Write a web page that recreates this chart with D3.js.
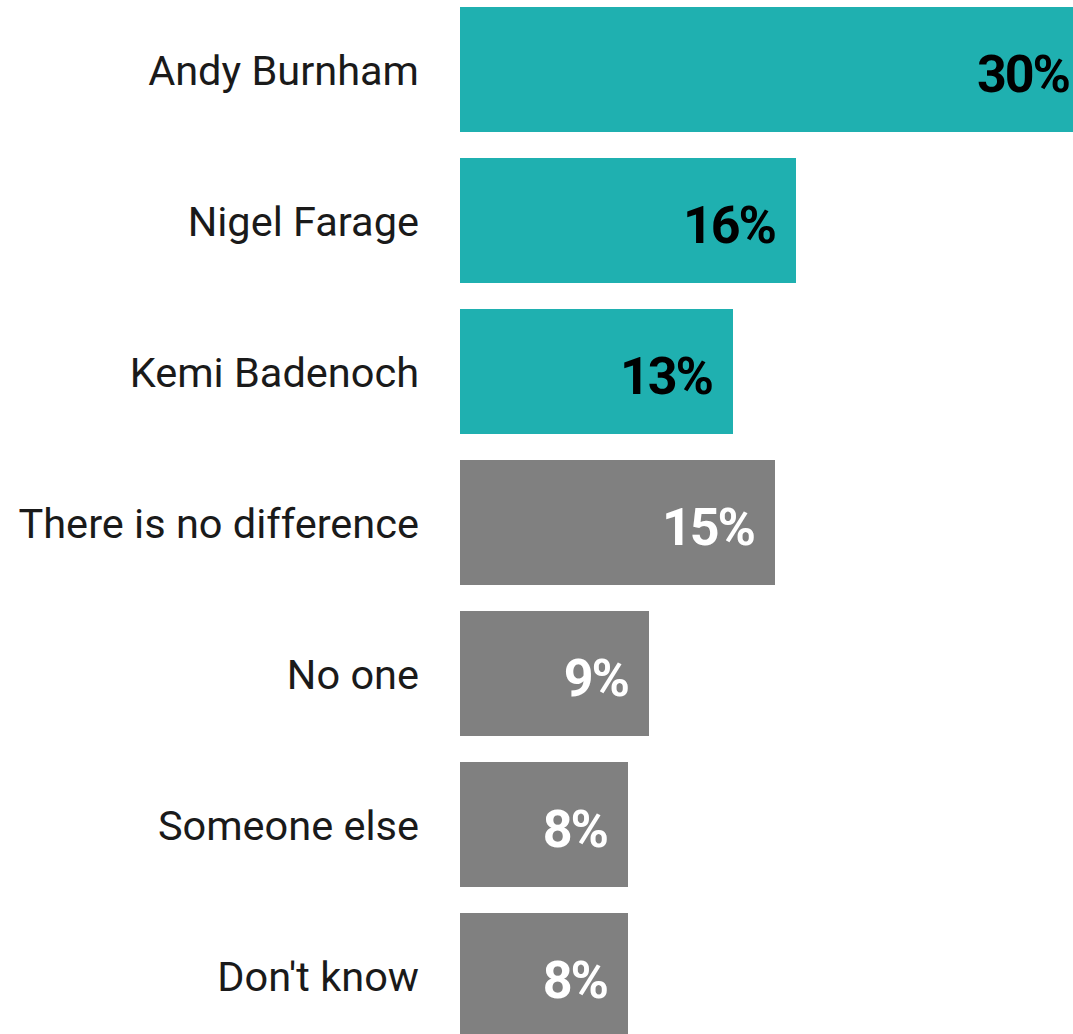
<!DOCTYPE html>
<html><head><meta charset="utf-8">
<script src="https://cdn.jsdelivr.net/npm/d3@7"></script>
<style>html,body{margin:0;padding:0;background:#fff;overflow:hidden}</style>
</head><body>
<svg id="chart" width="1073" height="1034"></svg>
<script>
const categories = ["Andy Burnham","Nigel Farage","Kemi Badenoch","There is no difference","No one","Someone else","Don't know"];
const values = [30,16,13,15,9,8,8];
const groups = ["named","named","named","other","other","other","other"];

const svg = d3.select("#chart");
const x = d3.scaleLinear().domain([0, 30]).range([460, 1090]);
const y = d3.scaleBand().domain(categories).range([7, 7 + 151*7 - 26]).paddingInner(26/151).paddingOuter(0);
const color = d3.scaleOrdinal().domain(["named","other"]).range(["#1fb0b0","#808080"]);
const textColor = d3.scaleOrdinal().domain(["named","other"]).range(["#000000","#ffffff"]);

const data = categories.map((c,i)=>({c, v: values[i], g: groups[i]}));

svg.selectAll("rect.bar").data(data).join("rect")
  .attr("class","bar")
  .attr("x", x(0))
  .attr("y", d=>y(d.c))
  .attr("width", d=>x(d.v)-x(0))
  .attr("height", y.bandwidth())
  .attr("fill", d=>color(d.g));

svg.selectAll("text.cat").data(data).join("text")
  .attr("class","cat")
  .attr("x", 419)
  .attr("y", d=>y(d.c)+y.bandwidth()/2+15)
  .attr("text-anchor","end")
  .attr("font-family","Roboto, sans-serif")
  .attr("font-size", 41.5)
  .attr("fill","#1a1a1a")
  .text(d=>d.c);

svg.selectAll("text.val").data(data).join("text")
  .attr("class","val")
  .attr("x", d=>x(d.v)-21)
  .attr("y", d=>y(d.c)+y.bandwidth()/2+22)
  .attr("text-anchor","end")
  .attr("font-family","Roboto, sans-serif")
  .attr("font-weight","bold")
  .attr("font-size", 52)
  .attr("letter-spacing", -2)
  .attr("fill", d=>textColor(d.g))
  .text(d=>d.v+"%");
</script>
</body></html>
